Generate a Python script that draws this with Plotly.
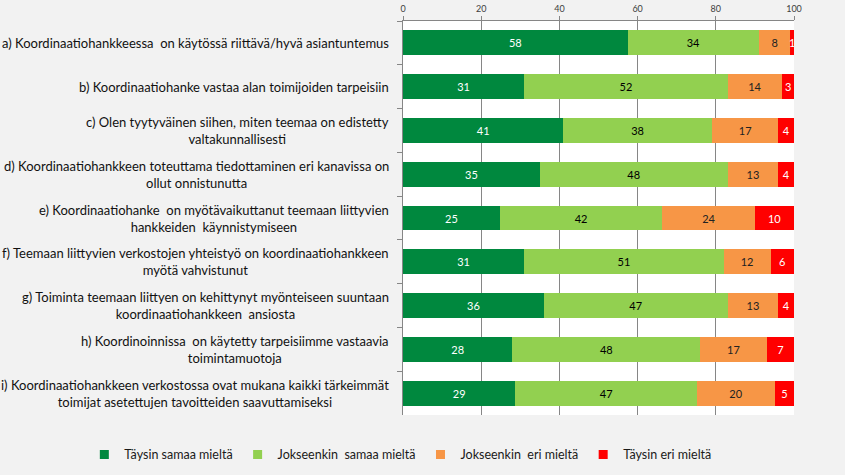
import plotly.graph_objects as go

categories = [
    "a) Koordinaatiohankkeessa  on käytössä riittävä/hyvä asiantuntemus",
    "b) Koordinaatiohanke vastaa alan toimijoiden tarpeisiin",
    "c) Olen tyytyväinen siihen, miten teemaa on edistetty<br>valtakunnallisesti",
    "d) Koordinaatiohankkeen toteuttama tiedottaminen eri kanavissa on<br>ollut onnistunutta",
    "e) Koordinaatiohanke  on myötävaikuttanut teemaan liittyvien<br>hankkeiden  käynnistymiseen",
    "f) Teemaan liittyvien verkostojen yhteistyö on koordinaatiohankkeen<br>myötä vahvistunut",
    "g) Toiminta teemaan liittyen on kehittynyt myönteiseen suuntaan<br>koordinaatiohankkeen  ansiosta",
    "h) Koordinoinnissa  on käytetty tarpeisiimme vastaavia<br>toimintamuotoja",
    "i) Koordinaatiohankkeen verkostossa ovat mukana kaikki tärkeimmät<br>toimijat asetettujen tavoitteiden saavuttamiseksi",
]
keys = list("abcdefghi")

series_names = ["Täysin samaa mieltä", "Jokseenkin  samaa mieltä", "Jokseenkin  eri mieltä", "Täysin eri mieltä"]
taysin_samaa = [58, 31, 41, 35, 25, 31, 36, 28, 29]
jokseenkin_samaa = [34, 52, 38, 48, 42, 51, 47, 48, 47]
jokseenkin_eri = [8, 14, 17, 13, 24, 12, 13, 17, 20]
taysin_eri = [1, 3, 4, 4, 10, 6, 4, 7, 5]
x_ticks = [0, 20, 40, 60, 80, 100]

series = [taysin_samaa, jokseenkin_samaa, jokseenkin_eri, taysin_eri]
colors = ["#00883e", "#92d050", "#f79646", "#ff0000"]
text_colors = ["white", "black", "#222222", "white"]

fig = go.Figure()
for name, vals, col, tc in zip(series_names, series, colors, text_colors):
    fig.add_trace(go.Bar(
        y=keys, x=vals, name=name, orientation="h",
        marker=dict(color=col, line=dict(width=0)),
        text=[str(v) for v in vals], textposition="inside",
        insidetextanchor="middle", textangle=0,
        textfont=dict(family="Lato", size=11, color=tc),
        constraintext="none", showlegend=False,
        hoverinfo="skip",
    ))

# legend entries with small square symbols
for name, col in zip(series_names, colors):
    fig.add_trace(go.Scatter(
        x=[None], y=[None], mode="markers", name=name,
        marker=dict(symbol="square", size=9, color=col), showlegend=True,
    ))

for k, lab in zip(keys, categories):
    fig.add_annotation(
        x=0, xref="paper", y=k, yref="y", text=lab, showarrow=False,
        xanchor="right", xshift=-12, align="center",
        font=dict(family="Lato", size=13, color="#111111"),
    )

fig.update_layout(
    width=845, height=475,
    barmode="stack", barnorm="percent", bargap=0.43,
    paper_bgcolor="#f2f2f2", plot_bgcolor="white",
    margin=dict(l=403, r=51, t=21, b=60, autoexpand=False),
    showlegend=True,
    legend=dict(orientation="h", x=-0.815, xanchor="left", y=-0.1015, yanchor="middle",
                font=dict(family="Lato", size=12.5, color="#1a1a1a"),
                traceorder="normal", itemwidth=30, bgcolor="rgba(0,0,0,0)"),
    xaxis=dict(side="top", range=[0, 100], tickvals=x_ticks, ticks="outside", ticklen=4,
               tickcolor="#868686", showgrid=True, gridcolor="#868686", gridwidth=1,
               showline=True, linecolor="#868686", zeroline=False,
               tickfont=dict(family="Lato", size=9, color="#404040")),
    yaxis=dict(categoryorder="array", categoryarray=keys, autorange="reversed",
               showticklabels=False, ticks="outside", tickson="boundaries", ticklen=5,
               tickcolor="#868686", showline=True, linecolor="#868686", showgrid=False),
)

fig.write_html("out.html")
